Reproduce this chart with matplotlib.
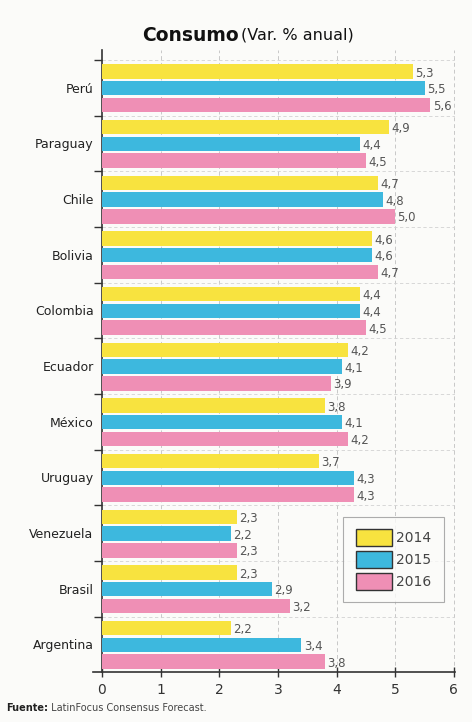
import numpy as np
import matplotlib.pyplot as plt
from matplotlib.patches import Patch

# Consumo - variación % anual por país
paises = ["Perú", "Paraguay", "Chile", "Bolivia", "Colombia", "Ecuador",
          "México", "Uruguay", "Venezuela", "Brasil", "Argentina"]
v2014 = [5.3, 4.9, 4.7, 4.6, 4.4, 4.2, 3.8, 3.7, 2.3, 2.3, 2.2]
v2015 = [5.5, 4.4, 4.8, 4.6, 4.4, 4.1, 4.1, 4.3, 2.2, 2.9, 3.4]
v2016 = [5.6, 4.5, 5.0, 4.7, 4.5, 3.9, 4.2, 4.3, 2.3, 3.2, 3.8]
anios = ["2014", "2015", "2016"]
colores = ["#f8e33f", "#3db8de", "#ef8fb5"]

fig = plt.figure(figsize=(4.72, 7.22), dpi=100, facecolor="#fbfbf9")
ax = fig.add_axes([0.216, 0.069, 0.748, 0.862])
ax.set_facecolor("#fbfbf9")

n = len(paises)
ypos = np.arange(n)[::-1]
alto = 0.26
offs = [0.29, -0.01, -0.31]
for serie, off, c in zip([v2014, v2015, v2016], offs, colores):
    ax.barh(ypos + off, serie, height=alto, color=c, zorder=3)
    for y, v in zip(ypos, serie):
        ax.text(v + 0.04, y + off - 0.03, f"{v:.1f}".replace(".", ","),
                va="center", ha="left", fontsize=8.5, color="#555555", zorder=4)

ax.set_xlim(0, 6.02)
ax.set_ylim(-0.5, n - 0.32)

# grilla punteada
for x in range(1, 7):
    ax.axvline(x, color="#c8c8c8", lw=0.7, ls=(0, (4, 3)), zorder=1)
for b in np.arange(n) + 0.5:
    ax.axhline(b, color="#d2d2d2", lw=0.6, ls=(0, (4, 3)), zorder=1)

ax.set_yticks(ypos)
ax.set_yticklabels(paises, fontsize=9, color="#222222")
ax.set_yticks(np.arange(n) + 0.5, minor=True)
ax.tick_params(axis="y", which="major", length=0, pad=6)
ax.tick_params(axis="y", which="minor", length=6, width=1, color="#333333")

ax.set_xticks(range(7))
ax.tick_params(axis="x", direction="inout", length=7, width=1,
               labelsize=10, colors="#333333", pad=4)

for s in ["top", "right"]:
    ax.spines[s].set_visible(False)
ax.spines["left"].set_color("#333333")
ax.spines["bottom"].set_color("#333333")
ax.spines["left"].set_linewidth(1.2)
ax.spines["bottom"].set_linewidth(1.2)
ax.spines["bottom"].set_bounds(-0.15, 6.02)

handles = [Patch(facecolor=c, edgecolor="#333333", lw=1.0) for c in colores]
leg = ax.legend(handles, anios, loc="lower right", bbox_to_anchor=(0.968, 0.112),
                fontsize=10, frameon=True, fancybox=False, handlelength=2.6,
                handleheight=1.5, labelspacing=0.35, borderpad=0.9,
                handletextpad=0.3, borderaxespad=0)
leg.get_frame().set_edgecolor("#999999")
leg.get_frame().set_linewidth(0.8)
leg.get_frame().set_facecolor("#fbfbf9")
for t in leg.get_texts():
    t.set_color("#444444")

# título
fig.text(0.505, 0.951, "Consumo", fontsize=13.5, fontweight="bold",
         ha="right", va="center", color="#111111")
fig.text(0.51, 0.951, "(Var. % anual)", fontsize=11.5,
         ha="left", va="center", color="#111111")

# fuente
t0 = fig.text(0.012, 0.012, "Fuente:", fontsize=7, fontweight="bold",
              ha="left", va="bottom", color="#222222")
fig.text(0, 0, " LatinFocus Consensus Forecast.", fontsize=7,
         ha="left", va="bottom", color="#444444",
         transform=t0.get_transform())
fig.canvas.draw()
bb = t0.get_window_extent()
x1 = fig.transFigure.inverted().transform((bb.x1, bb.y0))[0]
fig.texts[-1].set_position((x1, 0.012))

fig.savefig("out.png", dpi=100, facecolor=fig.get_facecolor())
